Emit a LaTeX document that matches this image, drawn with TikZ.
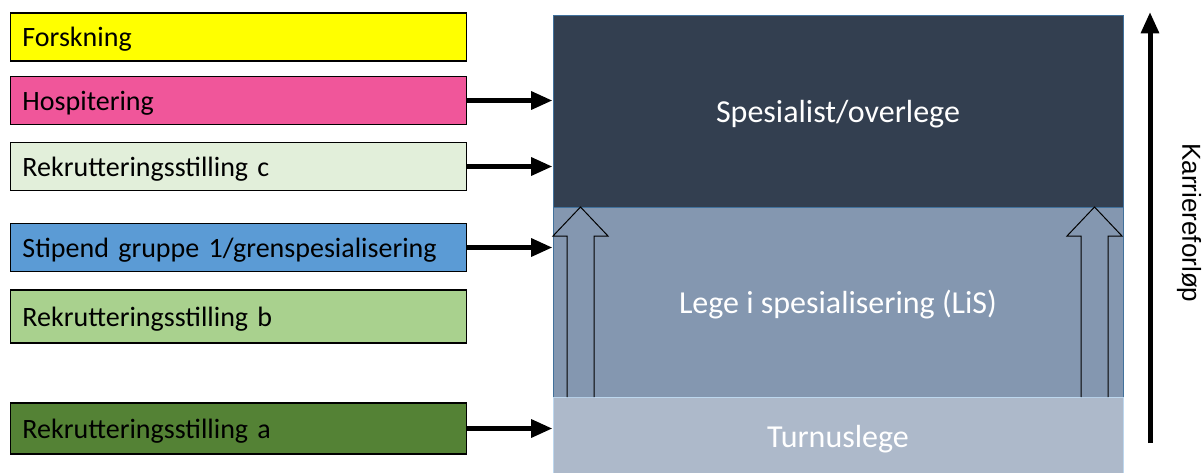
\documentclass[tikz,border=0pt]{standalone}
\usepackage{fontspec}
\setmainfont{Carlito}
\newfontfamily\arialfont{Liberation Sans}
\usetikzlibrary{arrows.meta}

\definecolor{forskcol}{HTML}{FFFF00}
\definecolor{hospcol}{HTML}{F0569A}
\definecolor{rekccol}{HTML}{E2EFDA}
\definecolor{stipcol}{HTML}{5B9BD5}
\definecolor{rekbcol}{HTML}{A9D18E}
\definecolor{rekacol}{HTML}{548235}
\definecolor{spescol}{HTML}{333F50}
\definecolor{liscol}{HTML}{8497B0}
\definecolor{turncol}{HTML}{ADB9CA}
\definecolor{framecol}{HTML}{41719C}
\definecolor{turnframe}{HTML}{BDD7EE}

\begin{document}
\begin{tikzpicture}[
			x=0.75pt, y=-0.75pt,
			font=\fontsize{21}{25}\selectfont,
			option/.style={
				rectangle,
				draw=black,
				line width=1pt,
				text width=324pt,
				text depth=0pt,
				inner xsep=9pt,
				align=left,
				minimum height=36pt
			},
			level/.style={
				rectangle,
				draw=framecol,
				line width=0.75pt,
				text=white,
				text depth=0pt,
				font=\fontsize{24}{28}\selectfont,
				minimum width=427.5pt
			},
			fatarrow/.style={
				line width=3.75pt,
				-{Triangle[length=16pt,width=13pt]}
			},
			hollow/.style={
				draw=black,
				line width=0.75pt,
				fill=liscol
			}
			]
			\useasboundingbox (0,0) rectangle (1204,472);
			
			% the options on the left
			\node [option, fill=forskcol] (forsk) at (238.5,37) {Forskning};
			\node [option, fill=hospcol] (hosp) at (238.5,100.5) {Hospitering};
			\node [option, fill=rekccol] (rekc) at (238.5,166.5) {Rekrutteringsstilling c};
			\node [option, fill=stipcol] (stip) at (238.5,247.5) {Stipend gruppe 1/grenspesialisering};
			\node [option, fill=rekbcol, minimum height=39.75pt] (rekb) at (238.5,316.5) {Rekrutteringsstilling b};
			\node [option, fill=rekacol, minimum height=38.25pt] (reka) at (238.5,428.5) {Rekrutteringsstilling a};
			
			% the career levels
			\node [level, fill=spescol, minimum height=144pt] (spes) at (838,111) {Spesialist/overlege};
			\node [level, fill=liscol, minimum height=142.5pt] (lis) at (838,302) {Lege i spesialisering (LiS)};
			\node [level, fill=turncol, draw=turnframe, minimum height=58.5pt] (turn) at (838,436) {Turnuslege};
			
			% hollow arrows from LiS up to specialist
			\foreach \cx in {580.5,1094.5}
			\draw [hollow] (\cx-13.5,397) -- (\cx-13.5,236) -- (\cx-27.5,236) -- (\cx,207)
				-- (\cx+27.5,236) -- (\cx+13.5,236) -- (\cx+13.5,397);
			
			\draw [fatarrow] (hosp.east) -- (hosp.east -| spes.west);
			\draw [fatarrow] (rekc.east) -- (rekc.east -| spes.west);
			\draw [fatarrow] (stip.east) -- (stip.east -| lis.west);
			\draw [fatarrow] (reka.east) -- (reka.east -| turn.west);
			
			% career direction
			\coordinate (kbot) at (1150,443);
			\coordinate (ktop) at (1150,12);
			\draw [fatarrow] (kbot) -- (ktop);
			\node [rotate=-90, font=\arialfont\fontsize{19.5}{23}\selectfont] (karr) at (1189,223) {Karriereforløp};
			
\end{tikzpicture}
\end{document}
